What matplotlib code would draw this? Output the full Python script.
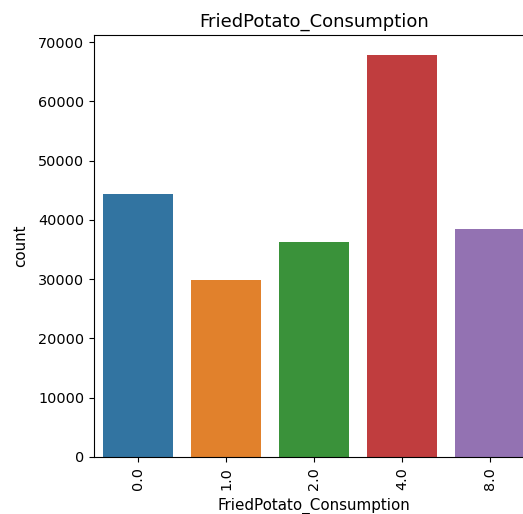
import matplotlib
matplotlib.use("Agg")
import matplotlib.pyplot as plt
import seaborn as sns

# Counts of respondents per fried potato consumption level
categories = ["0.0", "1.0", "2.0", "4.0", "8.0"]
counts = [44300, 29900, 36260, 67800, 38450]

plt.rcParams["font.size"] = 10.9
plt.rcParams["xtick.labelsize"] = 10.4
plt.rcParams["ytick.labelsize"] = 10.4

fig = plt.figure(figsize=(5.23, 5.14), dpi=100)
ax = fig.add_axes([0.1797, 0.1109, 0.8413, 0.8210])

sns.barplot(x=categories, y=counts, hue=categories, palette="tab10",
            legend=False, ax=ax)
ax.set_ylim(0, max(counts) * 1.05)
ax.set_title("FriedPotato_Consumption", fontsize=13)
ax.set_xlabel("FriedPotato_Consumption", labelpad=6)
ax.set_ylabel("count", labelpad=7)
ax.tick_params(axis="x", labelrotation=90)

fig.savefig("out.png", dpi=100)
